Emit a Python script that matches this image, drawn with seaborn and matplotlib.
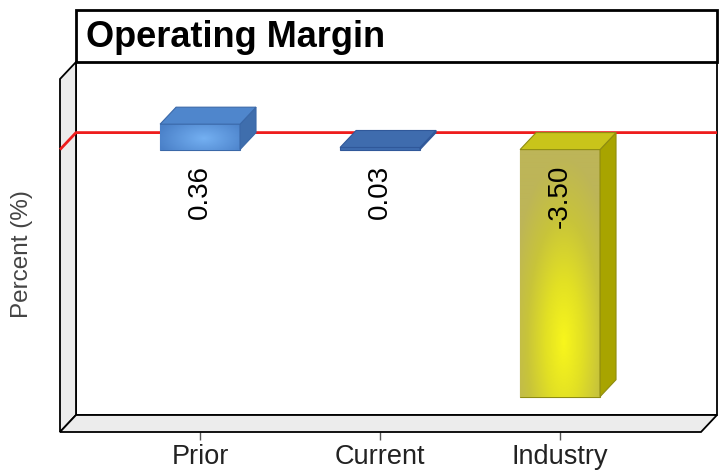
import numpy as np
import pandas as pd
import matplotlib
matplotlib.use("Agg")
import matplotlib.pyplot as plt
import seaborn as sns
from matplotlib.patches import Polygon, Rectangle
from matplotlib.colors import LinearSegmentedColormap

# ---- data ----
categories = ["Prior", "Current", "Industry"]
values = [0.36, 0.03, -3.50]
value_labels = ["0.36", "0.03", "-3.50"]
title = "Operating Margin"
ylabel = "Percent (%)"

# ---- colours per bar: front, top, side, edge ----
front_colors = ["#5a94d8", "#3f6db0", "#d2cc30"]
top_colors = ["#4f86cc", "#3f6cae", "#c9c41a"]
side_colors = ["#3f6ead", "#345d99", "#a8a400"]
edge_colors = ["#3a68a8", "#30589a", "#8f8c10"]

sns.set_theme(style="white")
plt.rcParams["font.family"] = ["Liberation Sans", "DejaVu Sans"]

W, H, DPI = 725, 471, 100
fig = plt.figure(figsize=(W / DPI, H / DPI), dpi=DPI)
fig.patch.set_facecolor("white")

# front plane of the 3D box (pixels from left / top)
L, R, T, B = 60, 701, 79, 432
DX, DY = 16, 17          # depth of the box: right and up, in pixels
ax = fig.add_axes([L / W, 1 - B / H, (R - L) / W, (B - T) / H])

df = pd.DataFrame({"cat": categories, "val": values})
sns.barplot(data=df, x="cat", y="val", hue="cat", palette=front_colors,
            saturation=1, width=0.444, legend=False, ax=ax, zorder=5)
bars = sorted([p for p in ax.patches if isinstance(p, Rectangle)],
              key=lambda p: p.get_x())

xmin, xmax = -0.778, 2.783
ymin, ymax = -4.0, 1.0
ax.set_xlim(xmin, xmax)
ax.set_ylim(ymin, ymax)
ax.patch.set_visible(False)
for s in ax.spines.values():
    s.set_visible(False)
ax.set_xlabel("")
ax.set_ylabel("")
ax.set_yticks([])
ax.tick_params(axis="x", bottom=True, length=6, width=1, color="#555555",
               pad=3, labelsize=19.5, labelcolor="#222222")

# depth offset in data units
ddx = DX * (xmax - xmin) / (R - L)
ddy = DY * (ymax - ymin) / (B - T)

# back wall, left wall and floor
wall_gray = "#ececec"
ax.add_patch(Rectangle((xmin + ddx, ymin + ddy), xmax - xmin, ymax - ymin,
                       facecolor="white", edgecolor="black", lw=1.3,
                       clip_on=False, zorder=0))
ax.add_patch(Polygon([(xmin, ymin), (xmin, ymax), (xmin + ddx, ymax + ddy),
                      (xmin + ddx, ymin + ddy)], closed=True,
                     facecolor=wall_gray, edgecolor="black", lw=1.3,
                     clip_on=False, zorder=1))
ax.add_patch(Polygon([(xmin, ymin), (xmax, ymin), (xmax + ddx, ymin + ddy),
                      (xmin + ddx, ymin + ddy)], closed=True,
                     facecolor=wall_gray, edgecolor="black", lw=1.3,
                     clip_on=False, zorder=1))

# zero line across the left wall and back wall
ax.plot([xmin, xmin + ddx, xmax + ddx], [0, ddy, ddy], color="#ee1c1c",
        lw=2, clip_on=False, zorder=2, solid_capstyle="butt")

# 3D faces and shading for each bar
for i, p in enumerate(bars):
    x0, w = p.get_x(), p.get_width()
    y0, h = p.get_y(), p.get_height()
    top, bot = max(y0, y0 + h), min(y0, y0 + h)
    x1 = x0 + w
    p.set_edgecolor(edge_colors[i])
    p.set_linewidth(0.8)
    # side face
    ax.add_patch(Polygon([(x1, top), (x1, bot), (x1 + ddx, bot + ddy),
                          (x1 + ddx, top + ddy)], closed=True,
                         facecolor=side_colors[i], edgecolor=edge_colors[i],
                         lw=0.8, zorder=6, clip_on=False))
    # top face
    ax.add_patch(Polygon([(x0, top), (x1, top), (x1 + ddx, top + ddy),
                          (x0 + ddx, top + ddy)], closed=True,
                         facecolor=top_colors[i], edgecolor=edge_colors[i],
                         lw=0.8, zorder=6, clip_on=False))
    # soft shading on the front face
    if i == 0:
        yy, xx = np.mgrid[0:1:60j, 0:1:120j]
        d = np.sqrt(((xx - 0.55) / 0.6) ** 2 + ((yy - 0.45) / 0.9) ** 2)
        cmap = LinearSegmentedColormap.from_list("b", ["#74b0f2", "#4a80c8"])
        im = ax.imshow(np.clip(d, 0, 1), cmap=cmap, vmin=0, vmax=1,
                       extent=(x0, x1, bot, top), aspect="auto",
                       origin="lower", zorder=5.5, interpolation="bilinear")
        im.set_clip_path(p)
    elif i == 2:
        yy, xx = np.mgrid[0:1:200j, 0:1:80j]
        d = np.sqrt(((xx - 0.55) / 0.7) ** 2 + ((yy - 0.22) / 0.75) ** 2)
        cmap = LinearSegmentedColormap.from_list(
            "y", ["#f8f61c", "#e2e024", "#c8c43a", "#bdb558"])
        im = ax.imshow(np.clip(d, 0, 1), cmap=cmap, vmin=0, vmax=1,
                       extent=(x0, x1, bot, top), aspect="auto",
                       origin="lower", zorder=5.5, interpolation="bilinear")
        im.set_clip_path(p)

ax.set_xlim(xmin, xmax)
ax.set_ylim(ymin, ymax)

# value labels, hanging below the zero line
for i, p in enumerate(bars):
    xc = p.get_x() + p.get_width() / 2
    ax.annotate(value_labels[i], xy=(xc, 0), xytext=(0, -15),
                textcoords="offset pixels", rotation=90, ha="center",
                va="top", fontsize=20, color="black", zorder=10)

# title box above the back wall
tb_left, tb_right, tb_top, tb_bottom = L + DX, R + DX, 10, T - DY
fig.add_artist(Rectangle((tb_left / W, 1 - tb_bottom / H),
                         (tb_right - tb_left) / W, (tb_bottom - tb_top) / H,
                         transform=fig.transFigure, facecolor="white",
                         edgecolor="black", lw=2))
fig.text((tb_left + 10) / W, 1 - 47 / H, title, fontsize=26,
         fontweight="bold", ha="left", va="baseline", color="black")

fig.text(22 / W, 1 - 254 / H, ylabel, rotation=90, ha="center", va="center",
         fontsize=17.5, color="#444444")

fig.savefig("out.png", dpi=DPI, facecolor="white")
